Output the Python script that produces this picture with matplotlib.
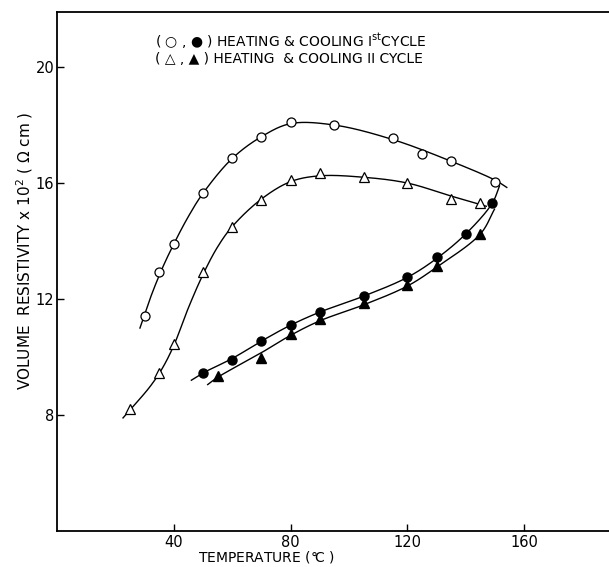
import numpy as np
import matplotlib
matplotlib.use("Agg")
import matplotlib.pyplot as plt

plt.rcParams['font.family'] = ['Liberation Sans Narrow', 'DejaVu Sans']

# measured points
heat1_x = [30, 35, 40, 50, 60, 70, 80, 95, 115, 125, 135, 150]
heat1_y = [11.4, 12.95, 13.9, 15.65, 16.85, 17.6, 18.1, 18.0, 17.55, 17.0, 16.75, 16.05]
cool1_x = [50, 60, 70, 80, 90, 105, 120, 130, 140, 149]
cool1_y = [9.45, 9.9, 10.55, 11.1, 11.55, 12.1, 12.75, 13.45, 14.25, 15.3]
heat2_x = [25, 35, 40, 50, 60, 70, 80, 90, 105, 120, 135, 145]
heat2_y = [8.2, 9.45, 10.45, 12.95, 14.5, 15.4, 16.1, 16.35, 16.2, 16.0, 15.45, 15.3]
cool2_x = [55, 70, 80, 90, 105, 120, 130, 145]
cool2_y = [9.35, 9.95, 10.8, 11.3, 11.85, 12.5, 13.15, 14.25]

# hand drawn curves
c_heat1_x = [28.4, 32, 36, 40, 45, 50, 60, 70, 80, 95, 115, 135, 150, 154]
c_heat1_y = [11.0, 12.05, 13.05, 13.9, 14.85, 15.65, 16.85, 17.6, 18.05, 18.0, 17.5, 16.75, 16.1, 15.85]
c_heat2_x = [22.6, 27, 32, 36, 40, 45, 50, 55, 60, 70, 80, 90, 105, 120, 135, 147]
c_heat2_y = [7.9, 8.4, 9.0, 9.6, 10.4, 11.7, 12.85, 13.8, 14.5, 15.45, 16.05, 16.25, 16.2, 16.0, 15.55, 15.2]
c_cool1_x = [46, 50, 60, 70, 80, 90, 105, 120, 130, 140, 149, 151.5]
c_cool1_y = [9.2, 9.45, 9.95, 10.55, 11.1, 11.55, 12.1, 12.75, 13.4, 14.25, 15.3, 15.9]
c_cool2_x = [51.6, 55, 70, 80, 90, 105, 120, 130, 145, 149.8]
c_cool2_y = [9.05, 9.3, 10.15, 10.75, 11.25, 11.8, 12.45, 13.1, 14.25, 15.1]

xticks = [40, 80, 120, 160]
yticks = [8, 12, 16, 20]


def smooth(xs, ys, n=30, yscale=10.0):
    # centripetal catmull-rom, done in roughly-square (pixel-like) space
    pts = np.column_stack([xs, np.asarray(ys) * yscale]).astype(float)
    p = np.vstack([2 * pts[0] - pts[1], pts, 2 * pts[-1] - pts[-2]])
    out = []
    for i in range(1, len(p) - 2):
        P0, P1, P2, P3 = p[i - 1], p[i], p[i + 1], p[i + 2]
        t0 = 0.0
        t1 = t0 + np.linalg.norm(P1 - P0) ** 0.5
        t2 = t1 + np.linalg.norm(P2 - P1) ** 0.5
        t3 = t2 + np.linalg.norm(P3 - P2) ** 0.5
        t = np.linspace(t1, t2, n, endpoint=False)[:, None]
        A1 = (t1 - t) / (t1 - t0) * P0 + (t - t0) / (t1 - t0) * P1
        A2 = (t2 - t) / (t2 - t1) * P1 + (t - t1) / (t2 - t1) * P2
        A3 = (t3 - t) / (t3 - t2) * P2 + (t - t2) / (t3 - t2) * P3
        B1 = (t2 - t) / (t2 - t0) * A1 + (t - t0) / (t2 - t0) * A2
        B2 = (t3 - t) / (t3 - t1) * A2 + (t - t1) / (t3 - t1) * A3
        out.append((t2 - t) / (t2 - t1) * B1 + (t - t1) / (t2 - t1) * B2)
    out.append(pts[-1:])
    c = np.vstack(out)
    return c[:, 0], c[:, 1] / yscale


fig = plt.figure(figsize=(6.09, 5.67), dpi=100)
ax = fig.add_axes([57 / 609, 36 / 567, 552 / 609, 519 / 567])

for cx, cy in [(c_heat1_x, c_heat1_y), (c_heat2_x, c_heat2_y),
               (c_cool1_x, c_cool1_y), (c_cool2_x, c_cool2_y)]:
    sx, sy = smooth(cx, cy)
    ax.plot(sx, sy, color='k', lw=1.0, zorder=2)

ax.plot(heat1_x, heat1_y, 'o', ms=6.5, mfc='white', mec='k', mew=0.9, zorder=3)
ax.plot(cool1_x, cool1_y, 'o', ms=6.5, mfc='k', mec='k', zorder=3)
ax.plot(heat2_x, heat2_y, '^', ms=7.5, mfc='white', mec='k', mew=0.9, zorder=3)
ax.plot(cool2_x, cool2_y, '^', ms=7.5, mfc='k', mec='k', zorder=3)

ax.set_xlim(0, 189)
ax.set_ylim(4, 21.9)
ax.set_xticks(xticks)
ax.set_yticks(yticks)
ax.tick_params(direction='in', length=5, width=1, labelsize=10.5, pad=2)
ax.tick_params(axis='x', pad=3)
ax.spines['right'].set_visible(False)
for s in ['left', 'top', 'bottom']:
    ax.spines[s].set_linewidth(1.3)

ax.set_xlabel('TEMPERATURE ($\\degree\\!$C )', fontsize=10, va='top')
ax.xaxis.set_label_coords(0.379, -0.035)
ax.set_ylabel('VOLUME  RESISTIVITY x 10$^2$ ( \u03a9 cm )', fontsize=11)
ax.yaxis.set_label_coords(-0.04, 0.54)

ax.text(0.178, 0.944, '( \u25cb , \u25cf ) HEATING & COOLING I$^{\\rm st}$CYCLE',
        transform=ax.transAxes, fontsize=10, va='center', ha='left',
        family=['Liberation Sans Narrow', 'DejaVu Sans'])
ax.text(0.178, 0.910, '( \u25b3 , \u25b2 ) HEATING  & COOLING II CYCLE',
        transform=ax.transAxes, fontsize=10, va='center', ha='left',
        family=['Liberation Sans Narrow', 'DejaVu Sans'])

fig.savefig('out.png', dpi=100)
